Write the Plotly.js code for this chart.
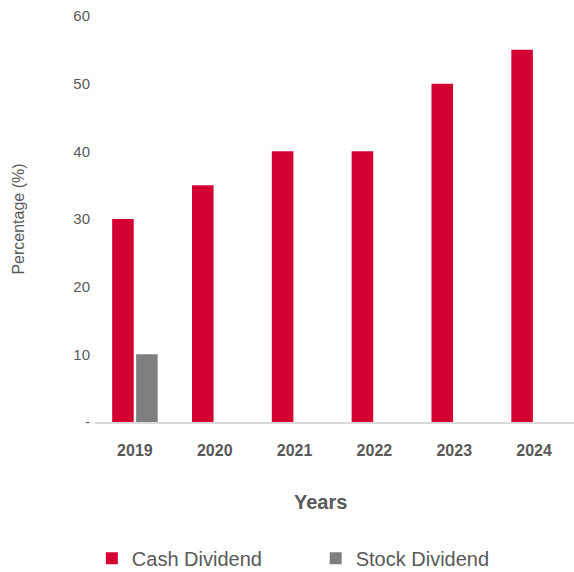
<!DOCTYPE html>
<html>
<head>
<meta charset="utf-8">
<script src="https://cdn.plot.ly/plotly-3.0.1.min.js"></script>
<style>html,body{margin:0;padding:0;background:#fff;}#chart{width:574px;height:572px;}</style>
</head>
<body>
<div id="chart"></div>
<script>
const years = ["2019", "2020", "2021", "2022", "2023", "2024"];
const cashDividend = [30, 35, 40, 40, 50, 55];
const stockDividend = [10, null, null, null, null, null];
const yTickVals = [0, 10, 20, 30, 40, 50, 60];
const yTickText = ["-", "10", "20", "30", "40", "50", "60"];

const traces = [
  {type: "bar", name: "Cash Dividend", x: years, y: cashDividend, marker: {color: "#D50032"}, legend: "legend"},
  {type: "bar", name: "Stock Dividend", x: years, y: stockDividend, marker: {color: "#7F7F7F"}, legend: "legend2"}
];

const legendBase = {
  orientation: "h", xref: "container", yref: "container",
  xanchor: "left", y: 0.024, yanchor: "middle",
  font: {size: 20, color: "#595959"}, bgcolor: "rgba(0,0,0,0)"
};

const layout = {
  width: 574, height: 572,
  margin: {l: 95, r: 0, t: 16, b: 150},
  paper_bgcolor: "#fff", plot_bgcolor: "#fff",
  font: {family: "Liberation Sans, Arial, sans-serif", color: "#595959", size: 14},
  barmode: "group", bargap: 0.4, bargroupgap: 0.1,
  xaxis: {
    type: "category",
    showgrid: false, zeroline: false,
    showline: true, linecolor: "#D9D9D9", linewidth: 2,
    ticks: "", ticklabelstandoff: 13,
    tickfont: {size: 16, color: "#595959", family: "Liberation Sans, Arial, sans-serif", weight: "bold"}
  },
  yaxis: {
    range: [0, 60], showgrid: false, zeroline: false, showline: false,
    tickvals: yTickVals, ticktext: yTickText, ticks: "",
    ticklabelstandoff: 4,
    tickfont: {size: 15, color: "#595959"},
    title: {text: "Percentage (%)", font: {size: 16, color: "#595959"}, standoff: 44}
  },
  annotations: [{
    text: "<b>Years</b>", xref: "paper", yref: "paper",
    x: 0.471, y: -0.197, xanchor: "center", yanchor: "middle",
    showarrow: false, font: {size: 20, color: "#595959"}
  }],
  showlegend: true,
  legend: Object.assign({}, legendBase, {x: 0.16}),
  legend2: Object.assign({}, legendBase, {x: 0.55})
};

Plotly.newPlot("chart", traces, layout, {displayModeBar: false, staticPlot: true});
</script>
</body>
</html>
